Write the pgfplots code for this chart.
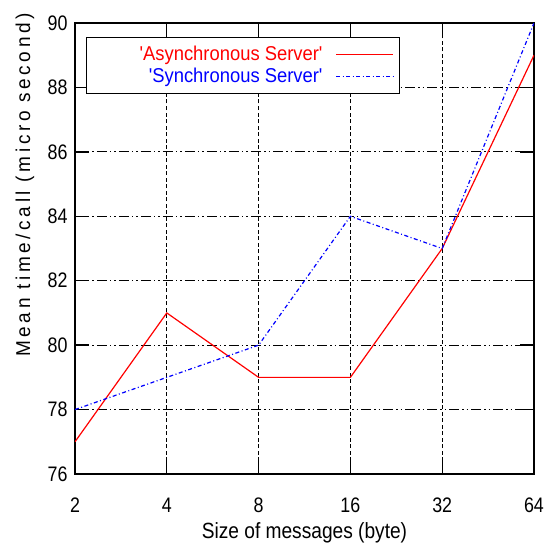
\documentclass[border=0pt]{standalone}
\usepackage{pgfplots}
\pgfplotsset{compat=1.18}
\usepackage{fontspec}
\setmainfont{Liberation Sans}
\newfontfamily\condfont[FakeStretch=0.85]{Liberation Sans}
\newfontfamily\legfont[FakeStretch=0.92]{Liberation Sans}
\newfontfamily\labfont[FakeStretch=0.87]{Liberation Sans}
\newfontfamily\ylabfont[FakeStretch=0.95, LetterSpace=18]{Liberation Sans}
\begin{document}
\begin{tikzpicture}
\begin{axis}[
  scale only axis,
  width=459pt, height=451pt,
  xmin=0, xmax=5, ymin=76, ymax=90,
  xtick={0,1,2,3,4,5},
  xticklabels={2,4,8,16,32,64},
  ytick={76,78,80,82,84,86,88,90},
  /pgf/number format/assume math mode=true,
  ticklabel style={font=\condfont\fontsize{21}{23}\selectfont},
  xlabel={Size of messages (byte)},
  ylabel={Mean time/call (micro second)},
  xlabel style={font=\labfont\fontsize{22}{24}\selectfont, at={(axis description cs:0.5,0)}, anchor=center, yshift=-59pt},
  ylabel style={font=\ylabfont\fontsize{20}{22}\selectfont, at={(axis description cs:-0.109,0.641)}, anchor=center},
  xticklabel style={anchor=center, yshift=-31pt},
  yticklabel style={anchor=east, xshift=-4pt},
  axis line style={black, line width=1.3pt},
  major tick length=14pt,
  tick style={black, line width=1.3pt},
  xmajorgrids, ymajorgrids,
  x grid style={black, line width=1.2pt, dash pattern=on 4pt off 2.5pt},
  y grid style={black, line width=1.2pt, dash pattern=on 10pt off 3pt on 1.5pt off 3pt on 1.5pt off 3pt},
  legend style={at={(0.024,0.970)}, anchor=north west, draw=black, line width=1.2pt,
    fill=white, font=\legfont\fontsize{20}{20}\selectfont, inner xsep=6pt, inner ysep=7pt,
    row sep=2pt},
  legend cell align=right,
  legend plot pos=right,
  legend image code/.code={\draw[#1, line width=1pt] (0cm,0cm) -- (2cm,0cm);},
]
\addplot[red, line width=1.2pt] coordinates {(0,77) (1,81) (2,79) (3,79) (4,83) (5,89)};
\addlegendentry{\textcolor{red}{\hspace*{45pt}'Asynchronous Server'\hspace*{11pt}}}
\addplot[blue, line width=1.2pt, dash pattern=on 4pt off 2.5pt on 1pt off 2.5pt] coordinates {(0,78) (1,79) (2,80) (3,84) (4,83) (5,90)};
\addlegendentry{\textcolor{blue}{'Synchronous Server'\hspace*{11pt}}}
\end{axis}
\path[use as bounding box] (current axis.south west) ++(-75pt,-81pt) rectangle ([xshift=11pt,yshift=23pt]current axis.north east);
\end{tikzpicture}
\end{document}
